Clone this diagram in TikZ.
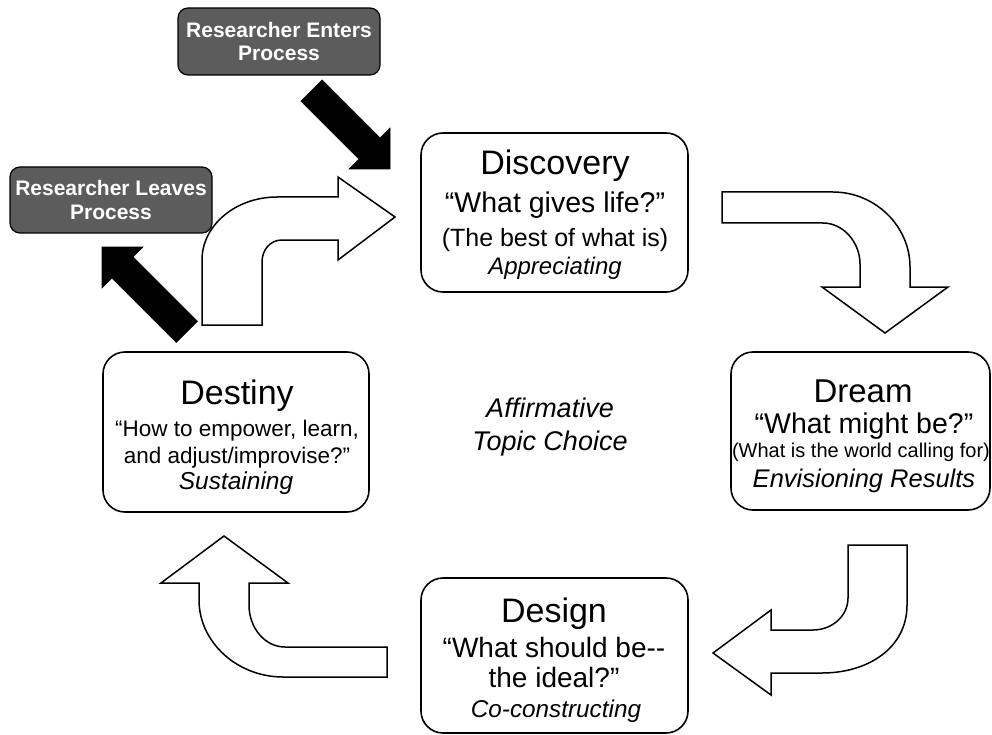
\documentclass[tikz,border=0pt]{standalone}
\usepackage{fontspec}
\setmainfont{Liberation Sans}
\definecolor{boxgray}{RGB}{92,92,92}
\begin{document}
\begin{tikzpicture}[x=1pt,y=-1pt,
  mainbox/.style={draw=black,line width=1.6pt,rounded corners=22pt,fill=white,inner sep=0pt},
  darkbox/.style={draw=black,line width=1.2pt,rounded corners=10pt,fill=boxgray,inner sep=0pt},
  flow/.style={draw=black,line width=1.5pt,fill=white,line join=miter},
  push/.style={fill=black,draw=black,line width=0.6pt,line join=miter},
  lbl/.style={anchor=base,inner sep=0pt},
  ttl/.style={lbl,font=\fontsize{34}{40}\selectfont},
  quo/.style={lbl,font=\fontsize{28.5}{34}\selectfont},
  ital/.style={lbl,font=\fontsize{25}{30}\selectfont\itshape},
  dk/.style={lbl,text=white,font=\fontsize{21}{25}\selectfont\bfseries}
]
\useasboundingbox (0,0) rectangle (992,735);

% ---- white curved flow arrows ----
% Destiny -> Discovery
\draw[flow] (202,325) -- (202,260) .. controls (202,225) and (236,197) .. (277,197)
  -- (338,197) -- (338,177) -- (395,217) -- (338,260) -- (338,240) -- (282,240)
  .. controls (270,240) and (262,250) .. (262,262) -- (262,325) -- cycle;
% Discovery -> Dream
\draw[flow] (722,192) -- (833,192) .. controls (875,192) and (910,226) .. (910,267)
  -- (910,287) -- (948,287) -- (885,333) -- (822,287) -- (860,287) -- (860,264)
  .. controls (860,242) and (843,223) .. (823,223) -- (722,223) -- cycle;
% Dream -> Design
\draw[flow] (848,545) -- (907,545) -- (907,605) .. controls (907,648) and (868,673) .. (822,673)
  -- (771,673) -- (771,695) -- (713,653) -- (771,610) -- (771,630) -- (813,630)
  .. controls (832,630) and (848,616) .. (848,598) -- cycle;
% Design -> Destiny
\draw[flow] (387,647) -- (285,647) .. controls (265,647) and (249,628) .. (249,605)
  -- (249,583) -- (288,583) -- (224,536) -- (161,583) -- (199,583) -- (199,600)
  .. controls (199,642) and (237,677) .. (283,677) -- (387,677) -- cycle;

% ---- black arrows ----
\fill[push] (300.9,101.1) -- (322.1,79.9) -- (380.1,137.9) -- (390,128) -- (390,169)
  -- (349,169) -- (358.9,159.1) -- cycle;
\fill[push] (176.3,342.5) -- (197.5,321.3) -- (133.1,256.9) -- (143,247) -- (102,247)
  -- (102,288) -- (111.9,278.1) -- cycle;

% ---- dark boxes ----
\node[darkbox,minimum width=202pt,minimum height=67pt] (enters) at (279,41.5) {};
\node[dk] (entersA) at (279,38) {Researcher Enters};
\node[dk] (entersB) at (279,61) {Process};
\node[darkbox,minimum width=202pt,minimum height=66pt] (leaves) at (111,200) {};
\node[dk] (leavesA) at (111,196) {Researcher Leaves};
\node[dk] (leavesB) at (111,220) {Process};

% ---- main boxes ----
\node[mainbox,minimum width=267pt,minimum height=159pt] (discovery) at (554.5,212.5) {};
\node[ttl] (discA) at (555,175) {Discovery};
\node[quo] (discB) at (555,213) {“What gives life?”};
\node[lbl,font=\fontsize{25}{30}\selectfont] (discC) at (555,246) {(The best of what is)};
\node[ital,font=\fontsize{24}{30}\selectfont\itshape] (discD) at (555,274) {Appreciating};

\node[mainbox,minimum width=259pt,minimum height=158pt] (dream) at (860.5,431) {};
\node[ttl,font=\fontsize{33}{40}\selectfont] (dreamA) at (863,402) {Dream};
\node[quo] (dreamB) at (864,433) {“What might be?”};
\node[lbl,font=\fontsize{20}{24}\selectfont] (dreamC) at (861,457) {(What is the world calling for)};
\node[ital,font=\fontsize{25.5}{30}\selectfont\itshape] (dreamD) at (864,487) {Envisioning Results};

\node[mainbox,minimum width=266pt,minimum height=160pt] (destiny) at (236,432) {};
\node[ttl] (destA) at (237,404) {Destiny};
\node[lbl,font=\fontsize{22.5}{26}\selectfont] (destB) at (237,436) {“How to empower, learn,};
\node[lbl,font=\fontsize{22.5}{26}\selectfont] (destC) at (237,463) {and adjust/improvise?”};
\node[ital,font=\fontsize{24.5}{30}\selectfont\itshape] (destD) at (236,489) {Sustaining};

\node[mainbox,minimum width=267pt,minimum height=155pt] (design) at (554.5,655.5) {};
\node[ttl] (desA) at (554,622) {Design};
\node[quo,font=\fontsize{28}{34}\selectfont] (desB) at (554,657) {“What should be-{}-};
\node[quo,font=\fontsize{28}{34}\selectfont] (desC) at (554,687) {the ideal?”};
\node[ital,font=\fontsize{24.3}{30}\selectfont\itshape] (desD) at (556,717) {Co-constructing};

% ---- centre text ----
\node[ital,font=\fontsize{27}{32}\selectfont\itshape] (affA) at (550,417) {Affirmative};
\node[ital,font=\fontsize{27}{32}\selectfont\itshape] (affB) at (550,450) {Topic Choice};
\end{tikzpicture}
\end{document}
